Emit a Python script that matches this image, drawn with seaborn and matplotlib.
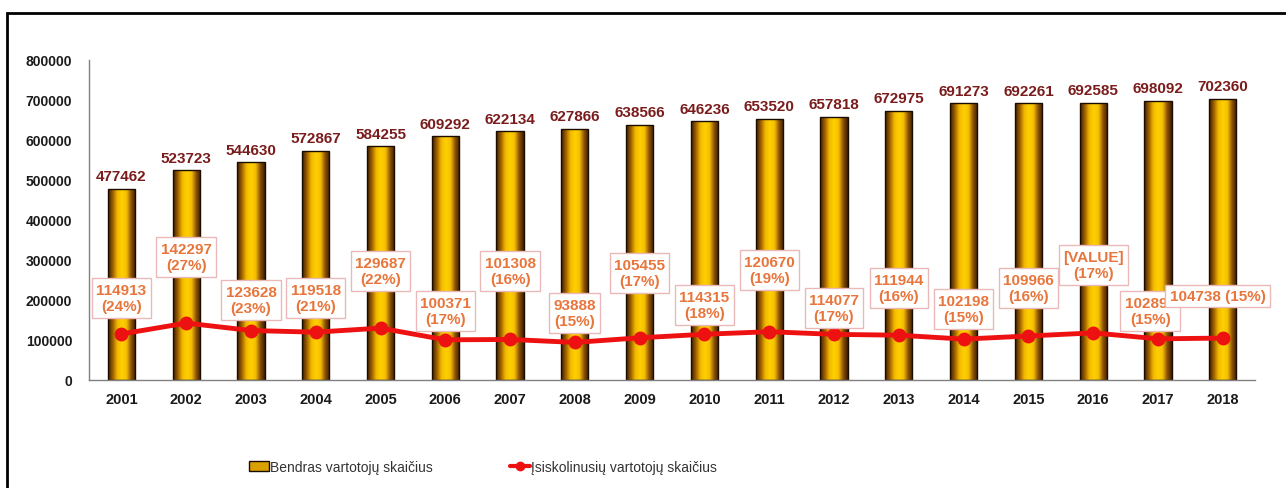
import numpy as np
import pandas as pd
import matplotlib
matplotlib.use("Agg")
import matplotlib.pyplot as plt
import seaborn as sns
from matplotlib.colors import LinearSegmentedColormap
from matplotlib.patches import Patch, Rectangle
from matplotlib.lines import Line2D

# =========================
# Data
# =========================
years = [str(y) for y in range(2001, 2019)]

total_users = [477462, 523723, 544630, 572867, 584255, 609292, 622134, 627866,
               638566, 646236, 653520, 657818, 672975, 691273, 692261, 692585,
               698092, 702360]

debt_users = [114913, 142297, 123628, 119518, 129687, 100371, 101308, 93888,
              105455, 114315, 120670, 114077, 111944, 102198, 109966, 117739,
              102893, 104738]

debt_pct = [24, 27, 23, 21, 22, 17, 16, 15, 17, 18, 19, 17, 16, 15, 16, 17, 15, 15]

debt_text = ["114913", "142297", "123628", "119518", "129687", "100371",
             "101308", "93888", "105455", "114315", "120670", "114077",
             "111944", "102198", "109966", "[VALUE]", "102893", "104738"]

# label box centres (layout only)
label_y = [205000, 307500, 200000, 205000, 272500, 172500, 272500, 167500,
           267500, 187500, 275000, 180000, 230000, 177500, 230000, 287500,
           172500, 210000]

bar_label = "Bendras vartotojų skaičius"
line_label = "Įsiskolinusių vartotojų skaičius"

df = pd.DataFrame({"year": years, "total": total_users, "debt": debt_users})

# =========================
# Style
# =========================
sns.set_style("white")
plt.rcParams["font.family"] = ["Liberation Sans", "DejaVu Sans"]

fig = plt.figure(figsize=(12.86, 4.89), dpi=100)
ax = fig.add_axes([0.0692, 0.2209, 0.9068, 0.6544])

# =========================
# Bars with gradient
# =========================
sns.barplot(data=df, x="year", y="total", color="#ffcc00", width=0.42,
            edgecolor="#1a0d00", linewidth=1.0, ax=ax, zorder=2)

grad_cmap = LinearSegmentedColormap.from_list(
    "gold", ["#3a1c00", "#9a5c00", "#f2b800", "#ffd000", "#f5be00", "#8a5000", "#3a1c00"])
grad = np.linspace(0, 1, 256).reshape(1, -1)

for p in ax.patches:
    x0, y0 = p.get_x(), p.get_y()
    w, h = p.get_width(), p.get_height()
    im = ax.imshow(grad, cmap=grad_cmap, aspect="auto",
                   extent=[x0, x0 + w, y0, y0 + h], zorder=2.1)
    im.set_clip_path(p)
    p.set_zorder(2.2)
    p.set_facecolor("none")

# bar value labels
for i, v in enumerate(total_users):
    ax.annotate(str(v), (i, v), xytext=(0, 4), textcoords="offset points",
                ha="center", va="bottom", fontsize=11, fontweight="bold",
                color="#7a1c1c", zorder=5)

# =========================
# Line
# =========================
sns.lineplot(x=np.arange(len(years)), y=debt_users, color="#ee1111",
             linewidth=3.5, marker="o", markersize=10, markeredgewidth=0,
             ax=ax, zorder=4)

for i in range(len(years)):
    if i == len(years) - 1:
        txt = f"{debt_text[i]} ({debt_pct[i]}%)"
        xi = i - 0.08
    else:
        txt = f"{debt_text[i]}\n({debt_pct[i]}%)"
        xi = i
    if i == 16:
        xi = i - 0.12
    ax.text(xi, label_y[i], txt, ha="center", va="center", fontsize=11,
            fontweight="bold", color="#e8763c", linespacing=1.25, zorder=6 + i,
            bbox=dict(boxstyle="square,pad=0.28", facecolor="white",
                      edgecolor="#eab8b8", linewidth=1.0))

# =========================
# Axes
# =========================
ax.set_xlim(-0.5, len(years) - 0.5)
ax.set_ylim(0, 800000)
ax.set_yticks(np.arange(0, 800001, 100000))
ax.set_yticklabels([str(v) for v in range(0, 800001, 100000)])
ax.set_xlabel("")
ax.set_ylabel("")

for s in ["top", "right"]:
    ax.spines[s].set_visible(False)
for s in ["left", "bottom"]:
    ax.spines[s].set_color("#808080")
    ax.spines[s].set_linewidth(1.0)

ax.tick_params(axis="y", length=4, color="#808080", pad=8, labelsize=10,
               labelcolor="#1a1a1a")
ax.tick_params(axis="x", which="major", length=0, pad=9, labelsize=10.5,
               labelcolor="#1a1a1a")
ax.set_xticks(np.arange(-0.5, len(years)), minor=True)
ax.tick_params(axis="x", which="minor", length=5, color="#808080")
for lab in ax.get_xticklabels() + ax.get_yticklabels():
    lab.set_fontweight("bold")

# =========================
# Legend
# =========================
handles = [
    Patch(facecolor="#d9a000", edgecolor="#1a0d00", linewidth=1.0),
    Line2D([0], [0], color="#ee1111", linewidth=3, marker="o", markersize=6),
]
leg = fig.legend(handles, [bar_label, line_label], loc="center left",
                 bbox_to_anchor=(0.184, 0.043), ncol=2, frameon=False,
                 fontsize=10, handlelength=1.4, handletextpad=0.1,
                 columnspacing=5.6)
for t in leg.get_texts():
    t.set_color("#333333")

# frame
fig.patches.append(Rectangle((7 / 1286, -0.1), 1.2, 0.1 + 1 - 14 / 489,
                             transform=fig.transFigure, fill=False,
                             edgecolor="black", linewidth=2, zorder=10))

fig.savefig("out.png", dpi=100)
